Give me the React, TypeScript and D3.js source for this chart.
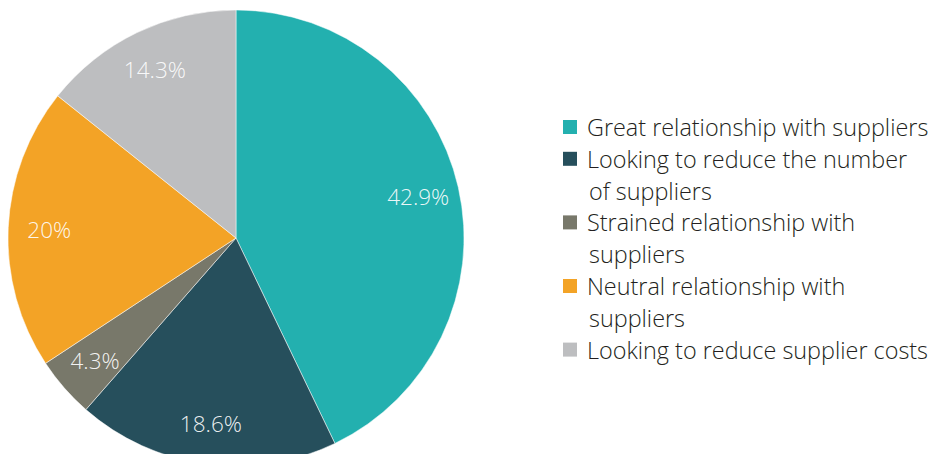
import React from "react";
import * as d3 from "d3";

const categories = [
  "Great relationship with suppliers",
  "Looking to reduce the number of suppliers",
  "Strained relationship with suppliers",
  "Neutral relationship with suppliers",
  "Looking to reduce supplier costs",
];
const values = [42.9, 18.6, 4.3, 20, 14.3];
const valueLabels = ["42.9%", "18.6%", "4.3%", "20%", "14.3%"];
const legendLines = [
  ["Great relationship with suppliers"],
  ["Looking to reduce the number", "of suppliers"],
  ["Strained relationship with", "suppliers"],
  ["Neutral relationship with", "suppliers"],
  ["Looking to reduce supplier costs"],
];
const colors = ["#23b0af", "#264f5c", "#78786a", "#f3a326", "#bdbec0"];

export default function App() {
  const W = 937, H = 462;
  const cx = 236, cy = 238, R = 228;
  const pie = d3.pie<number>().sort(null).value((d) => d);
  const arcs = pie(values);
  const arc = d3.arc<d3.PieArcDatum<number>>().innerRadius(0).outerRadius(R);
  const labelArc = d3.arc<d3.PieArcDatum<number>>().innerRadius(R * 0.82).outerRadius(R * 0.82);
  const font = "'Open Sans', 'Noto Sans', sans-serif";

  let row = 0;
  const lineH = 31.8;
  const legendTop = 127;
  return (
    <div style={{ margin: -8 }}>
      <svg width={W} height={H} style={{ display: "block" }}>
        <rect width={W} height={H} fill="#fff" />
        <g transform={`translate(${cx},${cy})`}>
          {arcs.map((a, i) => (
            <path key={i} d={arc(a) || ""} fill={colors[i]} stroke="#fff" strokeWidth={0.5} />
          ))}
          {arcs.map((a, i) => {
            const [x, y] = labelArc.centroid(a);
            return (
              <text key={i} x={x} y={y} textAnchor="middle" dominantBaseline="central"
                fill="#fff" fillOpacity={0.92} fontFamily={font} fontWeight={300} fontSize={22.5}>
                {valueLabels[i]}
              </text>
            );
          })}
        </g>
        <g>
          {legendLines.map((lines, i) => {
            const y0 = legendTop + row * lineH;
            row += lines.length;
            return (
              <g key={i}>
                <rect x={563} y={y0 - 7} width={14} height={14} fill={colors[i]} />
                {lines.map((l, j) => (
                  <text key={j} x={j === 0 ? 587 : 589} y={y0 + j * lineH} dominantBaseline="central"
                    fill="#231f20" fontFamily={font} fontWeight={300} fontSize={23.4}>
                    {l}
                  </text>
                ))}
              </g>
            );
          })}
        </g>
      </svg>
    </div>
  );
}
